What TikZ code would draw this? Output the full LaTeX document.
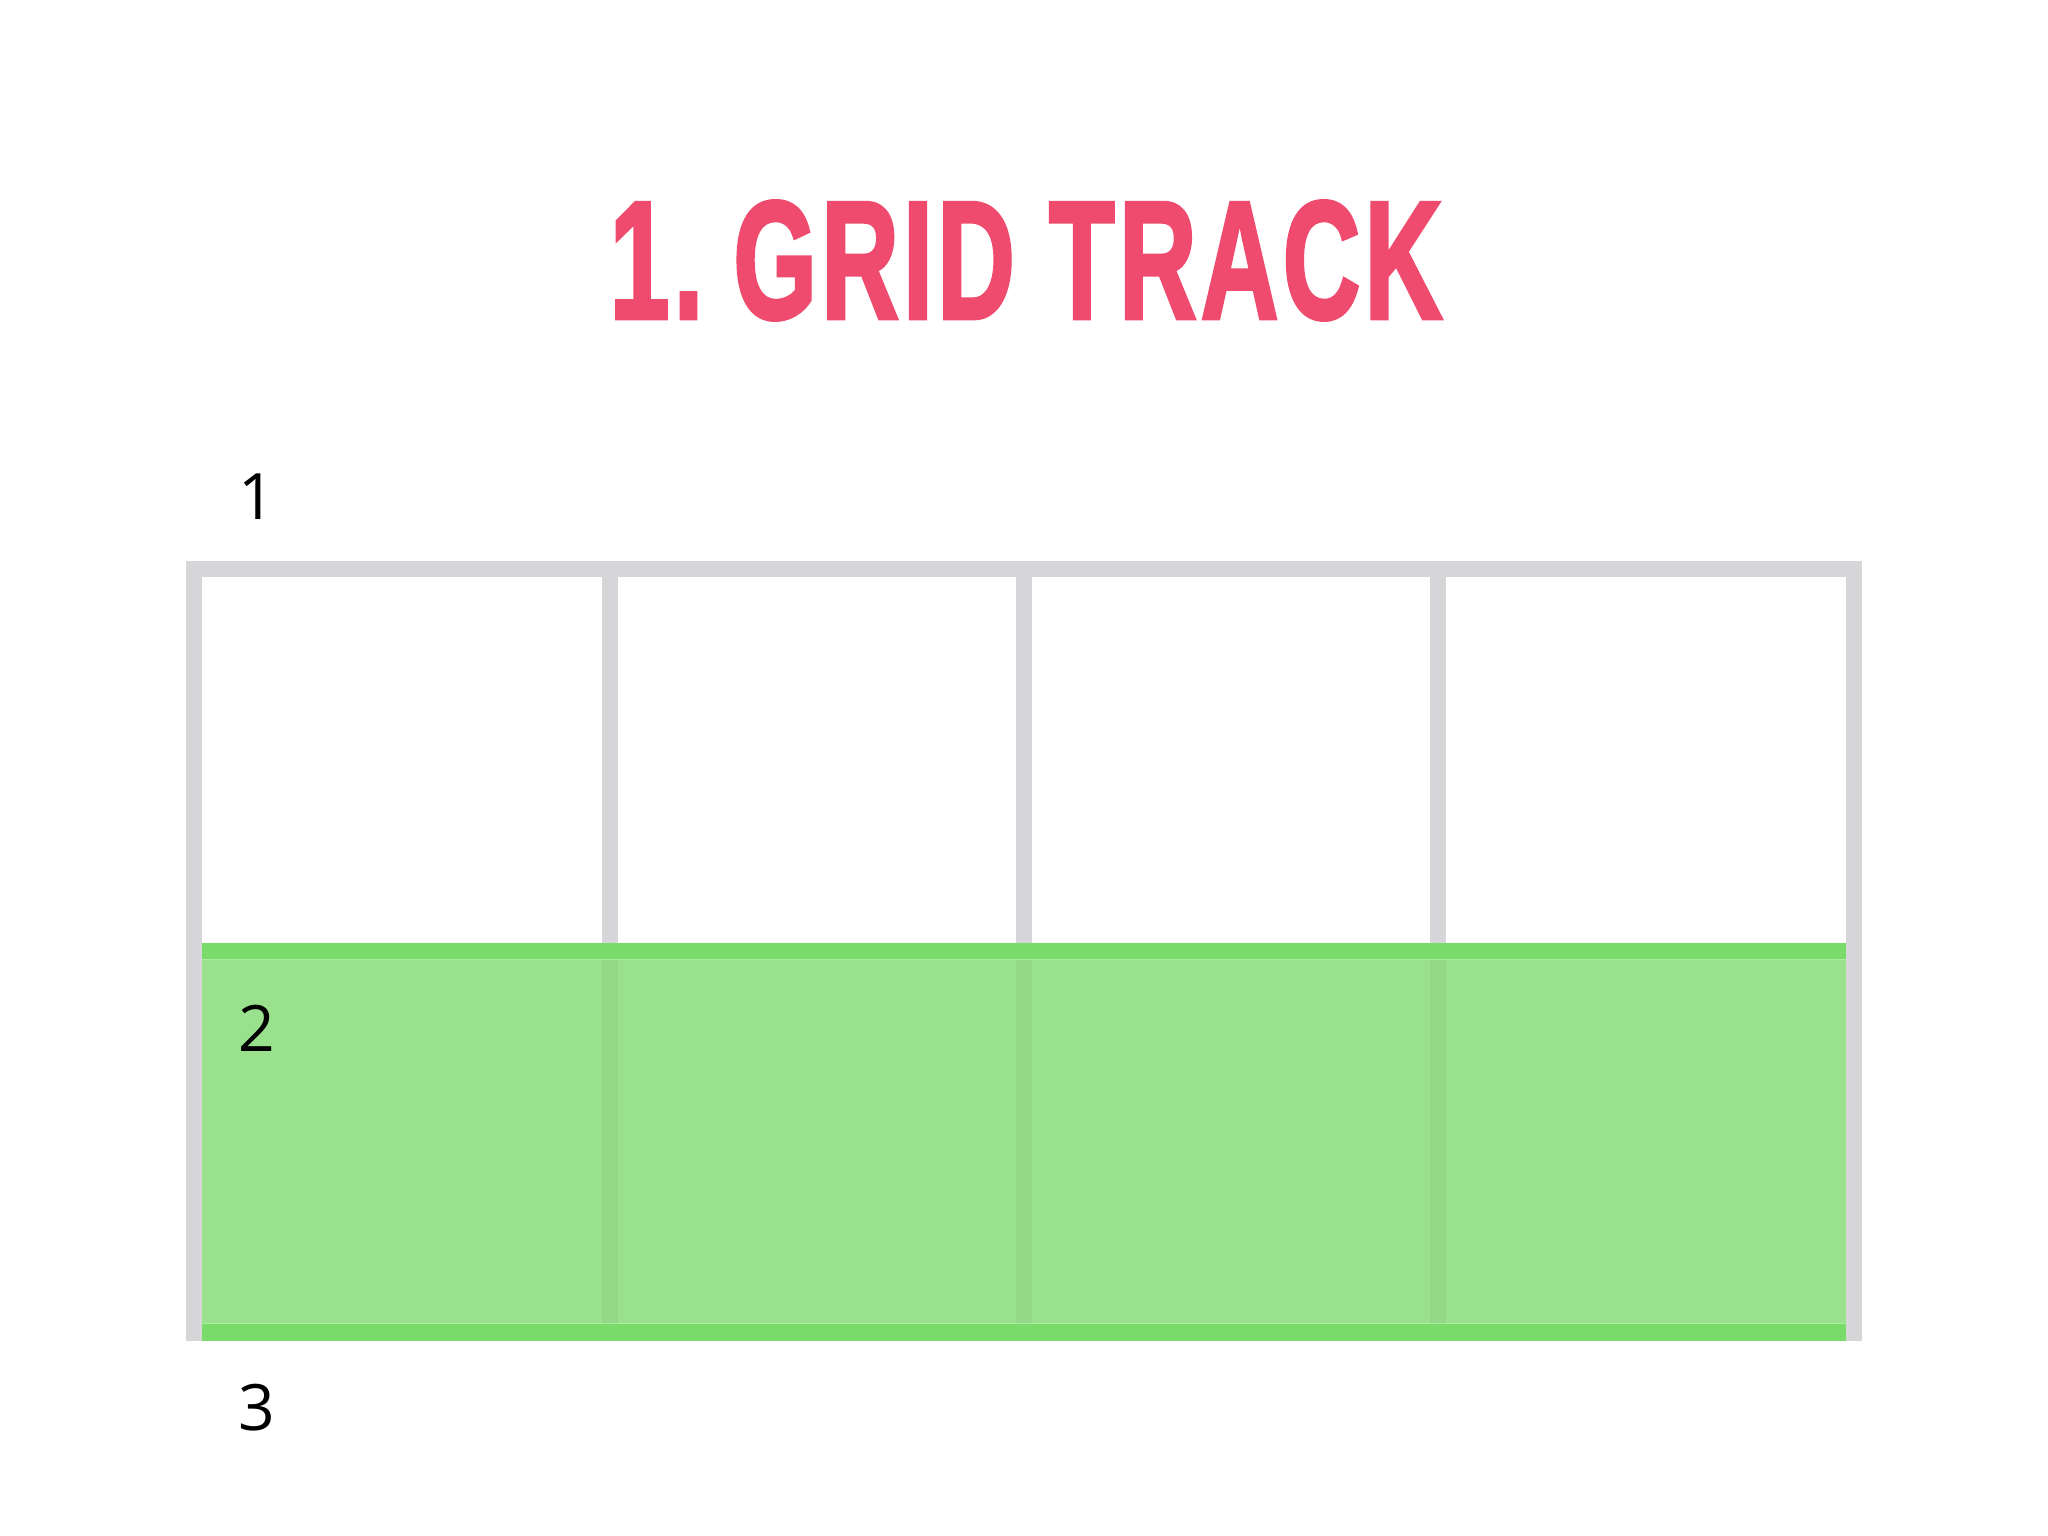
\documentclass[tikz,border=0pt]{standalone}
\usepackage{fontspec}
\setmainfont{Liberation Sans}
\newfontfamily\titlefont[BoldFeatures={FakeBold=2.5,LetterSpace=4}]{Liberation Sans}
\newfontfamily\labelfont{Open Sans}
\usepackage{graphicx}
\definecolor{titlepink}{HTML}{EF4B6E}
\definecolor{framegray}{HTML}{D6D5D7}
\definecolor{bandbar}{HTML}{78DB6A}
\definecolor{bandfill}{HTML}{9AE18E}
\definecolor{bandline}{HTML}{93D887}
\definecolor{bandhi}{HTML}{AEEAA4}
\begin{document}
\begin{tikzpicture}[x=1pt,y=-1pt,
  numlabel/.style={inner sep=0pt,anchor=center,text=black,font=\labelfont\fontsize{64}{64}\selectfont},
  titletext/.style={inner sep=0pt,anchor=center,text=titlepink}]
\useasboundingbox (0,0) rectangle (2048,1536);
\fill[white] (0,0) rectangle (2048,1536);
% title
\node[titletext] (title) at (1026,260.5) {\resizebox{832pt}{117pt}{\titlefont\bfseries 1.\kern-0.04em\ GRID TRACK}};
% frame
\fill[framegray] (186,561) rectangle (1862,577);
\fill[framegray] (186,561) rectangle (202,1341);
\fill[framegray] (1846,561) rectangle (1862,1341);
% vertical column lines
\foreach \cx in {610,1024,1438}{
  \fill[framegray] (\cx-8,577) rectangle (\cx+8,943);
}
% green track
\fill[bandfill] (202,959) rectangle (1846,1323);
\foreach \cx in {610,1024,1438}{
  \fill[bandline] (\cx-8,959) rectangle (\cx+8,1323);
}
\fill[bandbar] (202,943) rectangle (1846,959);
\fill[bandbar] (202,1323) rectangle (1846,1341);
\fill[bandhi] (202,958.5) rectangle (1846,960);
\fill[bandhi] (202,1322.5) rectangle (1846,1324);
% labels
\node[numlabel] (l1) at (257,497) {1};
\node[numlabel] (l2) at (257,1028) {2};
\node[numlabel] (l3) at (257,1408) {3};
\end{tikzpicture}
\end{document}
